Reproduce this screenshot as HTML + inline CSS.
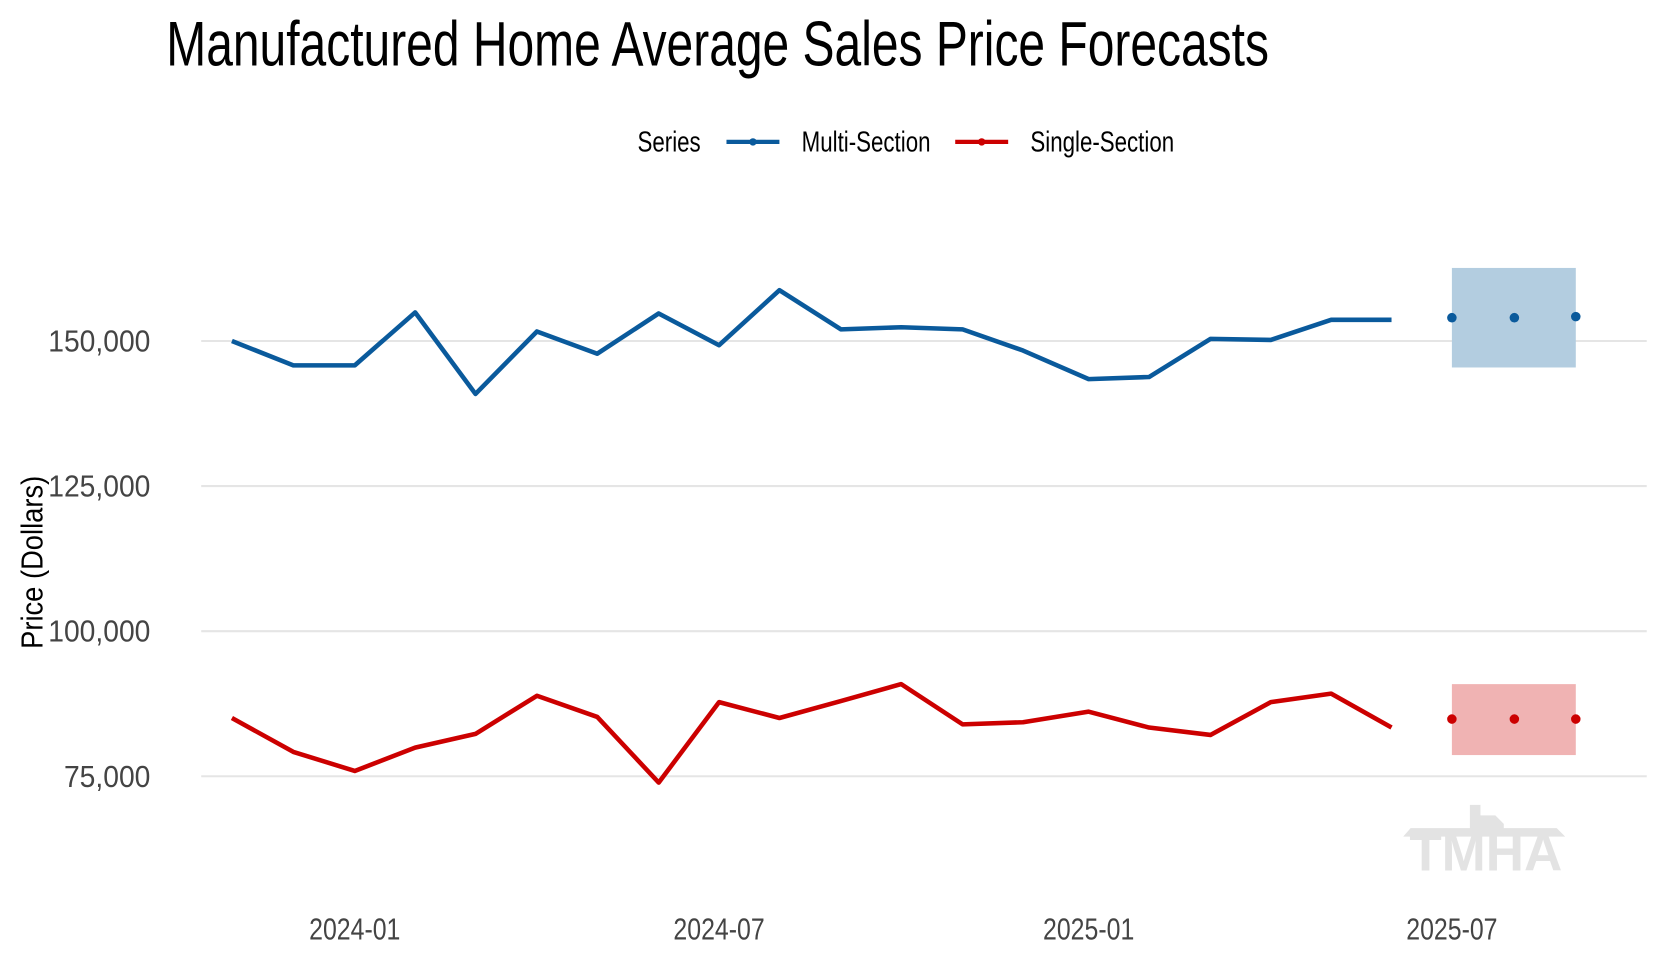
<!DOCTYPE html>
<html><head><meta charset="utf-8"><style>
html,body{margin:0;padding:0;background:#fff;}
svg{display:block;}
text{font-family:"Liberation Sans Narrow","Liberation Sans",sans-serif;}
</style></head><body>
<svg width="1660" height="960" viewBox="0 0 1660 960" xmlns="http://www.w3.org/2000/svg">
<rect width="1660" height="960" fill="#fff"/>
<g transform="scale(1.059)">
<g stroke="#e5e5e5" stroke-width="2">
<line x1="190" x2="1555" y1="322" y2="322"/>
<line x1="190" x2="1555" y1="459" y2="459"/>
<line x1="190" x2="1555" y1="596" y2="596"/>
<line x1="190" x2="1555" y1="733" y2="733"/>
</g>
<text x="157" y="62" font-size="60" transform="translate(157,0) scale(0.755,1) translate(-157,0)" fill="#000">Manufactured Home Average Sales Price Forecasts</text>
<g font-size="27" fill="#000">
<text x="602" y="143" transform="translate(602,0) scale(0.78,1) translate(-602,0)">Series</text>
<text x="757" y="143" transform="translate(757,0) scale(0.78,1) translate(-757,0)">Multi-Section</text>
<text x="973" y="143" transform="translate(973,0) scale(0.78,1) translate(-973,0)">Single-Section</text>
</g>
<line x1="686" x2="736" y1="134" y2="134" stroke="#0a5a9c" stroke-width="4"/>
<circle cx="711" cy="134" r="3.5" fill="#0a5a9c"/>
<line x1="902" x2="952" y1="134" y2="134" stroke="#cc0000" stroke-width="4"/>
<circle cx="927" cy="134" r="3.5" fill="#cc0000"/>
<g font-size="29" fill="#444" text-anchor="end">
<text x="142" y="332" transform="translate(142,0) scale(0.92,1) translate(-142,0)">150,000</text>
<text x="142" y="469" transform="translate(142,0) scale(0.92,1) translate(-142,0)">125,000</text>
<text x="142" y="606" transform="translate(142,0) scale(0.92,1) translate(-142,0)">100,000</text>
<text x="142" y="743" transform="translate(142,0) scale(0.92,1) translate(-142,0)">75,000</text>
</g>
<g font-size="29" fill="#444" text-anchor="middle">
<text x="335" y="887" transform="translate(335,0) scale(0.81,1) translate(-335,0)">2024-01</text>
<text x="679" y="887" transform="translate(679,0) scale(0.81,1) translate(-679,0)">2024-07</text>
<text x="1028" y="887" transform="translate(1028,0) scale(0.81,1) translate(-1028,0)">2025-01</text>
<text x="1371" y="887" transform="translate(1371,0) scale(0.81,1) translate(-1371,0)">2025-07</text>
</g>
<text transform="translate(40,531) rotate(-90) scale(0.89,1)" font-size="29" fill="#000" text-anchor="middle">Price (Dollars)</text>
<rect x="1371" y="253" width="117" height="94" fill="#b3cde0"/>
<rect x="1371" y="646" width="117" height="67" fill="#f0b3b3"/>
<polyline fill="none" stroke="#0a5a9c" stroke-width="4.3" stroke-linejoin="round" points="219,322 277,345 335,345 392,295 449,372 507,313 564,334 622,296 679,326 736,274 794,311 851,309 909,311 966,331 1028,358 1085,356 1143,320 1200,321 1257,302 1314,302"/>
<polyline fill="none" stroke="#cc0000" stroke-width="4.3" stroke-linejoin="round" points="219,678 277,710 335,728 392,706 449,693 507,657 564,677 622,739 679,663 736,678 794,662 851,646 909,684 966,682 1028,672 1085,687 1143,694 1200,663 1257,655 1314,687"/>
<g fill="#0a5a9c"><circle cx="1371" cy="300" r="4.5"/><circle cx="1430" cy="300" r="4.5"/><circle cx="1488" cy="299" r="4.5"/></g>
<g fill="#cc0000"><circle cx="1371" cy="679" r="4.5"/><circle cx="1430" cy="679" r="4.5"/><circle cx="1488" cy="679" r="4.5"/></g>
<g fill="#e3e3e3">
<path d="M1332,782 L1470,782 L1478,790 L1325,790 Z"/>
<path d="M1388,760 h10 v10 h14 l8,8 v8 h-32 Z"/>
<text x="1403" y="822" font-family="Liberation Serif,serif" font-weight="bold" font-size="50" text-anchor="middle" fill="#e3e3e3">TMHA</text>
</g>
</g>
</svg>
</body></html>
